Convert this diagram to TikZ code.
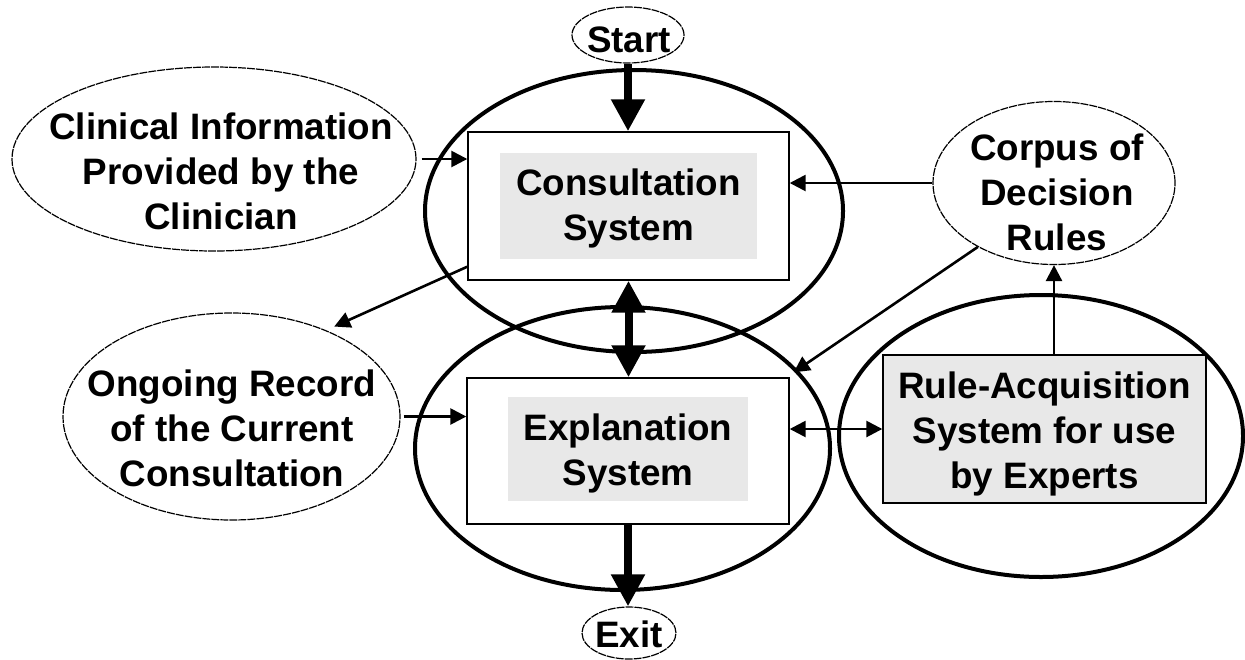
\documentclass[tikz,border=0pt]{standalone}
\usepackage{fontspec}
\setmainfont{Liberation Sans}
\usetikzlibrary{arrows.meta,shapes.geometric,calc}

\begin{document}
\begin{tikzpicture}[x=0.5pt,y=-0.5pt,
  lbl/.style={font=\bfseries\fontsize{18.4}{22.5}\selectfont, align=center, inner sep=0pt},
  thinell/.style={ellipse, draw, line width=0.6pt, dash pattern=on 4pt off 0.5pt, inner sep=0pt},
  bigell/.style={ellipse, draw, line width=2pt, inner sep=0pt},
  sysbox/.style={rectangle, draw, line width=0.7pt, fill=white, inner sep=0pt},
  shadebox/.style={rectangle, fill=black!9, inner sep=0pt},
  thinarrow/.style={line width=1.3pt, -{Triangle[length=8pt 0 0,width=8pt 0 0]}},
  thinboth/.style={line width=1.3pt, {Triangle[length=8pt 0 0,width=8pt 0 0]}-{Triangle[length=8pt 0 0,width=8pt 0 0]}},
  thickarrow/.style={line width=4pt, -{Triangle[length=16pt 0 0,width=16pt 0 0]}},
  thickboth/.style={line width=4pt, {Triangle[length=16pt 0 0,width=16pt 0 0]}-{Triangle[length=16pt 0 0,width=16pt 0 0]}}
]
\useasboundingbox (0,0) rectangle (1245,659);

% terminal ellipses
\node[thinell, minimum width=56pt, minimum height=28pt] (start) at (628,35) {};
\node[lbl] at (629,40) {Start};
\node[thinell, minimum width=47pt, minimum height=26pt] (exit) at (629,633) {};
\node[lbl] at (629,634) {Exit};

% information sources
\node[thinell, minimum width=202pt, minimum height=92pt] (clin) at (214,159) {};
\node[lbl] at (221,171) {Clinical Information\\Provided by the\\Clinician};
\node[thinell, minimum width=168.5pt, minimum height=103.5pt] (ong) at (231.5,416.5) {};
\node[lbl] at (232,428) {Ongoing Record\\of the Current\\Consultation};
\node[thinell, minimum width=121pt, minimum height=81.5pt] (corpus) at (1054,183) {};
\node[lbl] at (1057,192) {Corpus of\\Decision\\Rules};

% system boxes
\node[sysbox, minimum width=160.5pt, minimum height=74pt] (cons) at (628.5,206) {};
\node[shadebox, minimum width=128.5pt, minimum height=53pt] at (628.5,206) {};
\node[lbl] at (628.5,208) {Consultation\\System};

\node[sysbox, minimum width=161pt, minimum height=73pt] (expl) at (628,451) {};
\node[shadebox, minimum width=120pt, minimum height=52pt] at (628,449) {};
\node[lbl] at (628,453) {Explanation\\System};

\node[sysbox, fill=black!9, minimum width=161.5pt, minimum height=74pt] (rule) at (1044.5,429) {};
\node[lbl] at (1044.5,434) {Rule-Acquisition\\System for use\\by Experts};

% subsystem boundaries
\node[bigell, minimum width=209pt, minimum height=141pt] (consE) at (634,211) {};
\node[bigell, minimum width=207.5pt, minimum height=141.5pt] (explE) at (622.5,448.5) {};
\node[bigell, minimum width=202pt, minimum height=141pt] (ruleE) at (1041,436) {};

% control flow
\draw[thickarrow] (start.south) -- (start.south |- cons.north);
\draw[thickboth] (cons.south) -- (cons.south |- expl.north);
\draw[thickarrow] (expl.south) -- (expl.south |- exit.north);

% information flow
\draw[thinarrow] ([xshift=2.5pt]clin.east) -- (clin.east -| cons.west);
\draw[thinarrow] (corpus.west) -- (corpus.west -| cons.east);
\draw[thinarrow] ([yshift=7pt]cons.south west) -- ([shift={(2.5pt,2.5pt)}]ong.41);
\draw[thinarrow] ([xshift=1.5pt]ong.east) -- (ong.east -| expl.west);
\draw[thinarrow] (corpus.220) -- ([shift={(2pt,2.5pt)}]expl.north east);
\draw[thinarrow] (corpus.south |- rule.north) -- (corpus.south);
\draw[thinboth] (rule.west -| expl.east) -- (rule.west);
\end{tikzpicture}
\end{document}
